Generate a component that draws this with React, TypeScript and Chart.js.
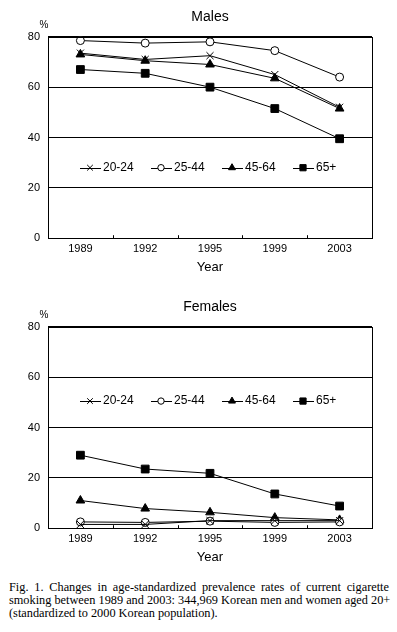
import React, { useEffect, useRef } from "react";
import { Chart, registerables } from "chart.js";
import { drawPoint } from "chart.js/helpers";

Chart.register(...registerables);

const years = ["1989", "1992", "1995", "1999", "2003"];
const groups = ["20-24", "25-44", "45-64", "65+"];
const yTicks = [0, 20, 40, 60, 80];

const maleAge2024 = [73.5, 71, 72.5, 65, 52];
const maleAge2544 = [78.5, 77.5, 78, 74.5, 64];
const maleAge4564 = [73, 70.5, 69, 63.5, 51.5];
const maleAge65 = [67, 65.5, 60, 51.5, 39.5];

const femaleAge2024 = [1.5, 1.5, 3, 3, 3];
const femaleAge2544 = [2.5, 2.3, 2.8, 2.3, 2.5];
const femaleAge4564 = [11, 7.8, 6.3, 4.2, 3.3];
const femaleAge65 = [29, 23.5, 21.8, 13.6, 8.8];

const captionLines = [
  "Fig. 1. Changes in age-standardized prevalence rates of current cigarette",
  "smoking between 1989 and 2003: 344,969 Korean men and women aged 20+",
  "(standardized to 2000 Korean population).",
];

const FONT = "'Liberation Sans', Arial, sans-serif";

const seriesStyles = [
  { pointStyle: "crossRot", pointRadius: 5, pointBackgroundColor: "#000" },
  { pointStyle: "circle", pointRadius: 4, pointBackgroundColor: "#fff" },
  { pointStyle: "triangle", pointRadius: 5, pointBackgroundColor: "#000" },
  { pointStyle: "rect", pointRadius: 5.5, pointBackgroundColor: "#000" },
];

const framePlugin = {
  id: "frame",
  afterDraw(chart: any) {
    const { ctx, chartArea, scales } = chart;
    const x = scales.x;
    ctx.save();
    ctx.strokeStyle = "#000";
    ctx.lineWidth = 1;
    ctx.strokeRect(
      Math.round(chartArea.left) + 0.5,
      Math.round(chartArea.top) + 0.5,
      Math.round(chartArea.right - chartArea.left),
      Math.round(chartArea.bottom - chartArea.top)
    );
    for (let i = 0; i < years.length - 1; i++) {
      const px = Math.round((x.getPixelForValue(i) + x.getPixelForValue(i + 1)) / 2) + 0.5;
      ctx.beginPath();
      ctx.moveTo(px, chartArea.bottom);
      ctx.lineTo(px, chartArea.bottom - 3);
      ctx.stroke();
    }
    ctx.fillStyle = "#000";
    ctx.font = `10px ${FONT}`;
    ctx.textAlign = "center";
    ctx.textBaseline = "middle";
    ctx.fillText("%", chartArea.left - 4, chartArea.top - 12);
    ctx.restore();
  },
};

const insideLegendPlugin = {
  id: "insideLegend",
  afterDatasetsDraw(chart: any, _args: any, opts: any) {
    const { ctx, chartArea, scales } = chart;
    const y = scales.y.getPixelForValue(opts.value);
    ctx.save();
    chart.data.datasets.forEach((ds: any, i: number) => {
      const x0 = chartArea.left + 32 + i * 71;
      ctx.strokeStyle = "#000";
      ctx.lineWidth = 1;
      ctx.beginPath();
      ctx.moveTo(x0, Math.round(y) + 0.5);
      ctx.lineTo(x0 + 21, Math.round(y) + 0.5);
      ctx.stroke();
      ctx.fillStyle = ds.pointBackgroundColor;
      drawPoint(ctx, {
        pointStyle: ds.pointStyle,
        radius: ds.pointRadius * 0.8,
        rotation: 0,
        borderWidth: 1,
      } as any, x0 + 10, y);
      ctx.fillStyle = "#000";
      ctx.font = `12px ${FONT}`;
      ctx.textAlign = "left";
      ctx.textBaseline = "middle";
      ctx.fillText(ds.label, x0 + 23, y);
    });
    ctx.restore();
  },
};

function makeConfig(title: string, data: number[][], legendValue: number): any {
  return {
    type: "line",
    data: {
      labels: years,
      datasets: groups.map((g, i) => ({
        label: g,
        data: data[i],
        borderColor: "#000",
        borderWidth: 1,
        pointBorderColor: "#000",
        pointBorderWidth: 1,
        tension: 0,
        fill: false,
        ...seriesStyles[i],
      })),
    },
    options: {
      animation: false,
      responsive: false,
      layout: { padding: { left: 0, right: 25, top: 0, bottom: 0 } },
      plugins: {
        legend: { display: false },
        tooltip: { enabled: false },
        title: {
          display: true,
          text: title,
          fullSize: false,
          color: "#000",
          font: { family: FONT, size: 14, weight: "normal" },
          padding: { top: 9, bottom: 11 },
        },
        insideLegend: { value: legendValue },
      },
      scales: {
        x: {
          type: "category",
          offset: true,
          grid: { display: false, drawTicks: false },
          border: { display: true, color: "#000", width: 1 },
          ticks: { color: "#000", font: { family: FONT, size: 11 }, padding: 4, maxRotation: 0 },
          title: {
            display: true,
            text: "Year",
            color: "#000",
            font: { family: FONT, size: 13 },
            padding: { top: 0, bottom: 0 },
          },
        },
        y: {
          min: yTicks[0],
          max: yTicks[yTicks.length - 1],
          afterBuildTicks: (scale: any) => {
            scale.ticks = yTicks.map((v) => ({ value: v }));
          },
          afterFit: (scale: any) => {
            scale.width = 48;
          },
          grid: { color: "#000", lineWidth: 1, drawTicks: false },
          border: { display: true, color: "#000", width: 1 },
          ticks: { color: "#000", font: { family: FONT, size: 11 }, padding: 8 },
        },
      },
    },
    plugins: [framePlugin, insideLegendPlugin],
  };
}

const CANVAS_H = 275;

function ChartBox(props: { title: string; data: number[][]; legendValue: number; top: number }) {
  const ref = useRef<HTMLCanvasElement | null>(null);
  useEffect(() => {
    if (!ref.current) return;
    const chart = new Chart(ref.current, makeConfig(props.title, props.data, props.legendValue));
    return () => chart.destroy();
  }, []);
  return (
    <div style={{ position: "absolute", left: 0, top: props.top, width: 397, height: CANVAS_H }}>
      <canvas ref={ref} width={397} height={CANVAS_H} style={{ width: 397, height: CANVAS_H, display: "block" }} />
    </div>
  );
}

export default function App() {
  return (
    <div style={{ position: "absolute", left: 0, top: 0, width: 397, height: 632, background: "#fff" }}>
      <ChartBox
        title="Males"
        data={[maleAge2024, maleAge2544, maleAge4564, maleAge65]}
        legendValue={28}
        top={0}
      />
      <ChartBox
        title="Females"
        data={[femaleAge2024, femaleAge2544, femaleAge4564, femaleAge65]}
        legendValue={50.5}
        top={290}
      />
      <div
        style={{
          position: "absolute",
          left: 9,
          top: 581,
          width: 380,
          fontFamily: "'Liberation Serif', 'Times New Roman', serif",
          fontSize: 12.3,
          lineHeight: "13px",
          color: "#000",
        }}
      >
        {captionLines.map((line, i) => (
          <div
            key={i}
            style={{
              whiteSpace: "nowrap",
              textAlign: i < captionLines.length - 1 ? "justify" : "left",
              textAlignLast: i < captionLines.length - 1 ? "justify" : "left",
            }}
          >
            {line}
          </div>
        ))}
      </div>
    </div>
  );
}
